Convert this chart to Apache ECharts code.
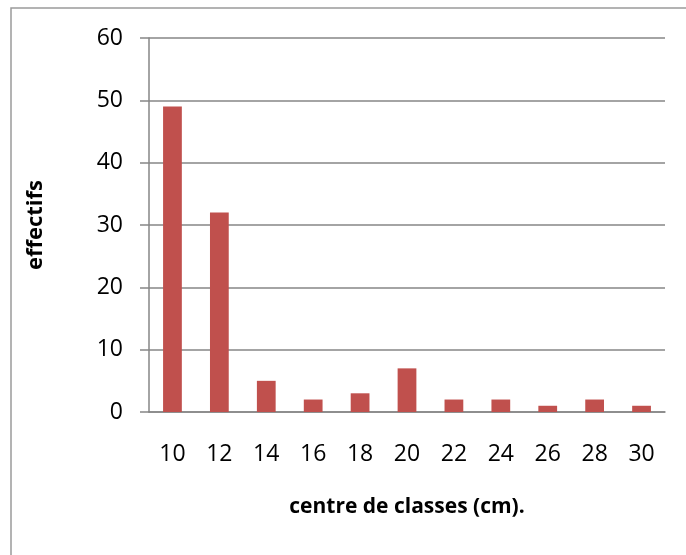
<!DOCTYPE html>
<html>
<head>
<meta charset="utf-8">
<script src="https://cdn.jsdelivr.net/npm/echarts@6/dist/echarts.min.js"></script>
<style>
  html, body { margin: 0; padding: 0; background: #fff; }
  #chart { width: 686px; height: 555px; }
</style>
</head>
<body>
<div id="chart"></div>
<script>
// centre de classes (cm) and counts
const classes = ['10', '12', '14', '16', '18', '20', '22', '24', '26', '28', '30'];
const effectifs = [49, 32, 5, 2, 3, 7, 2, 2, 1, 2, 1];
const yTicks = [0, 10, 20, 30, 40, 50, 60];

const chart = echarts.init(document.getElementById('chart'));
const font = '"Open Sans", "Noto Sans", sans-serif';

chart.setOption({
  backgroundColor: '#fff',
  animation: false,
  textStyle: { fontFamily: font },
  graphic: [{
    type: 'rect',
    shape: { x: 11, y: 8, width: 720, height: 600 },
    style: { fill: 'none', stroke: '#9a9a9a', lineWidth: 1.5 }
  }],
  grid: { left: 149, right: 21, top: 38, bottom: 143 },
  xAxis: {
    type: 'category',
    data: classes,
    name: 'centre de classes (cm).',
    nameLocation: 'middle',
    nameGap: 85,
    nameTextStyle: { fontFamily: font, fontWeight: 'bold', fontSize: 21, color: '#000' },
    axisLine: { lineStyle: { color: '#868686', width: 1.5 } },
    axisTick: { show: false },
    axisLabel: { margin: 31, fontSize: 23, color: '#000', fontFamily: font }
  },
  yAxis: {
    type: 'value',
    min: yTicks[0],
    max: yTicks[yTicks.length - 1],
    interval: 10,
    name: 'effectifs',
    nameLocation: 'middle',
    nameRotate: 90,
    nameGap: 102,
    nameTextStyle: { fontFamily: font, fontWeight: 'bold', fontSize: 22, color: '#000' },
    axisLine: { show: true, lineStyle: { color: '#868686', width: 1.5 } },
    axisTick: { show: true, inside: false, length: 9, lineStyle: { color: '#868686', width: 1.5 } },
    axisLabel: { margin: 26, fontSize: 23, color: '#000', fontFamily: font },
    splitLine: { lineStyle: { color: '#868686', width: 1.5 } }
  },
  series: [{
    type: 'bar',
    data: effectifs,
    barWidth: '40%',
    itemStyle: { color: '#C0504D' }
  }]
});
</script>
</body>
</html>
